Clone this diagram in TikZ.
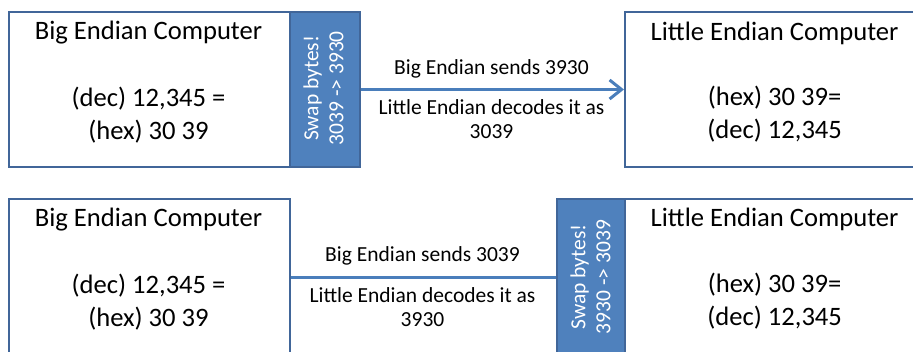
\documentclass[tikz,border=0pt]{standalone}
\usepackage{fontspec}
\setmainfont{Carlito}
\usetikzlibrary{arrows.meta}
\definecolor{boxline}{RGB}{65,102,153}
\definecolor{swapfill}{RGB}{79,129,189}
\definecolor{arrowc}{RGB}{74,126,187}
\begin{document}
\begin{tikzpicture}[x=1pt,y=-1pt,
  box/.style={draw=boxline, line width=2pt, fill=white, rectangle, inner sep=0pt, anchor=north west},
  swapbox/.style={draw=boxline, line width=2pt, fill=swapfill, rectangle, inner sep=0pt, anchor=north west},
  bigtxt/.style={font=\fontsize{26.6}{33}\selectfont, anchor=base, inner sep=0pt, align=center},
  labtxt/.style={font=\fontsize{21.5}{24.5}\selectfont, anchor=base, inner sep=0pt, align=center},
  swaptxt/.style={font=\fontsize{21.5}{25}\selectfont, text=white, rotate=90, align=center, inner sep=0pt},
  conn/.style={draw=arrowc, line width=3pt}]
\useasboundingbox (0,0) rectangle (913,352);
\clip (0,0) rectangle (913,352);
% top row
\node[box, minimum width=281pt, minimum height=155pt] (big1) at (8,11) {};
\node[swapbox, minimum width=70pt, minimum height=155pt] (swap1) at (289,11) {};
\node[box, minimum width=302pt, minimum height=155pt] (little1) at (624,11) {};
\node[bigtxt] (big1title) at (148.5,40) {Big Endian Computer};
\node[bigtxt] (big1val) at (148.5,139.5) {(dec) 12,345 =\\(hex) 30 39};
\node[bigtxt] (little1title) at (774.6,40.5) {Little Endian Computer};
\node[bigtxt] (little1val) at (774.6,139) {(hex) 30 39=\\(dec) 12,345};
\node[swaptxt] (swap1txt) at (323.5,88.3) {Swap bytes!\\3039 -> 3930};
\draw[conn, -{Straight Barb[length=12pt, width=19pt]}] (swap1.east) -- (little1.west);
\node[labtxt] (send1) at (491.5,75) {Big Endian sends 3930};
\node[labtxt] (dec1) at (491.5,139) {Little Endian decodes it as\\3039};
% bottom row
\node[box, minimum width=281pt, minimum height=158pt] (big2) at (8,198) {};
\node[swapbox, minimum width=68pt, minimum height=158pt] (swap2) at (556,198) {};
\node[box, minimum width=302pt, minimum height=158pt] (little2) at (624,198) {};
\node[bigtxt] (big2title) at (148.5,227) {Big Endian Computer};
\node[bigtxt] (big2val) at (148.5,326.5) {(dec) 12,345 =\\(hex) 30 39};
\node[bigtxt] (little2title) at (774.6,227) {Little Endian Computer};
\node[bigtxt] (little2val) at (774.6,326) {(hex) 30 39=\\(dec) 12,345};
\node[swaptxt] (swap2txt) at (590.5,277) {Swap bytes!\\3930 -> 3039};
\draw[conn] (big2.east) -- (swap2.west);
\node[labtxt] (send2) at (422.5,262) {Big Endian sends 3039};
\node[labtxt] (dec2) at (422.5,327) {Little Endian decodes it as\\3930};
\end{tikzpicture}
\end{document}
